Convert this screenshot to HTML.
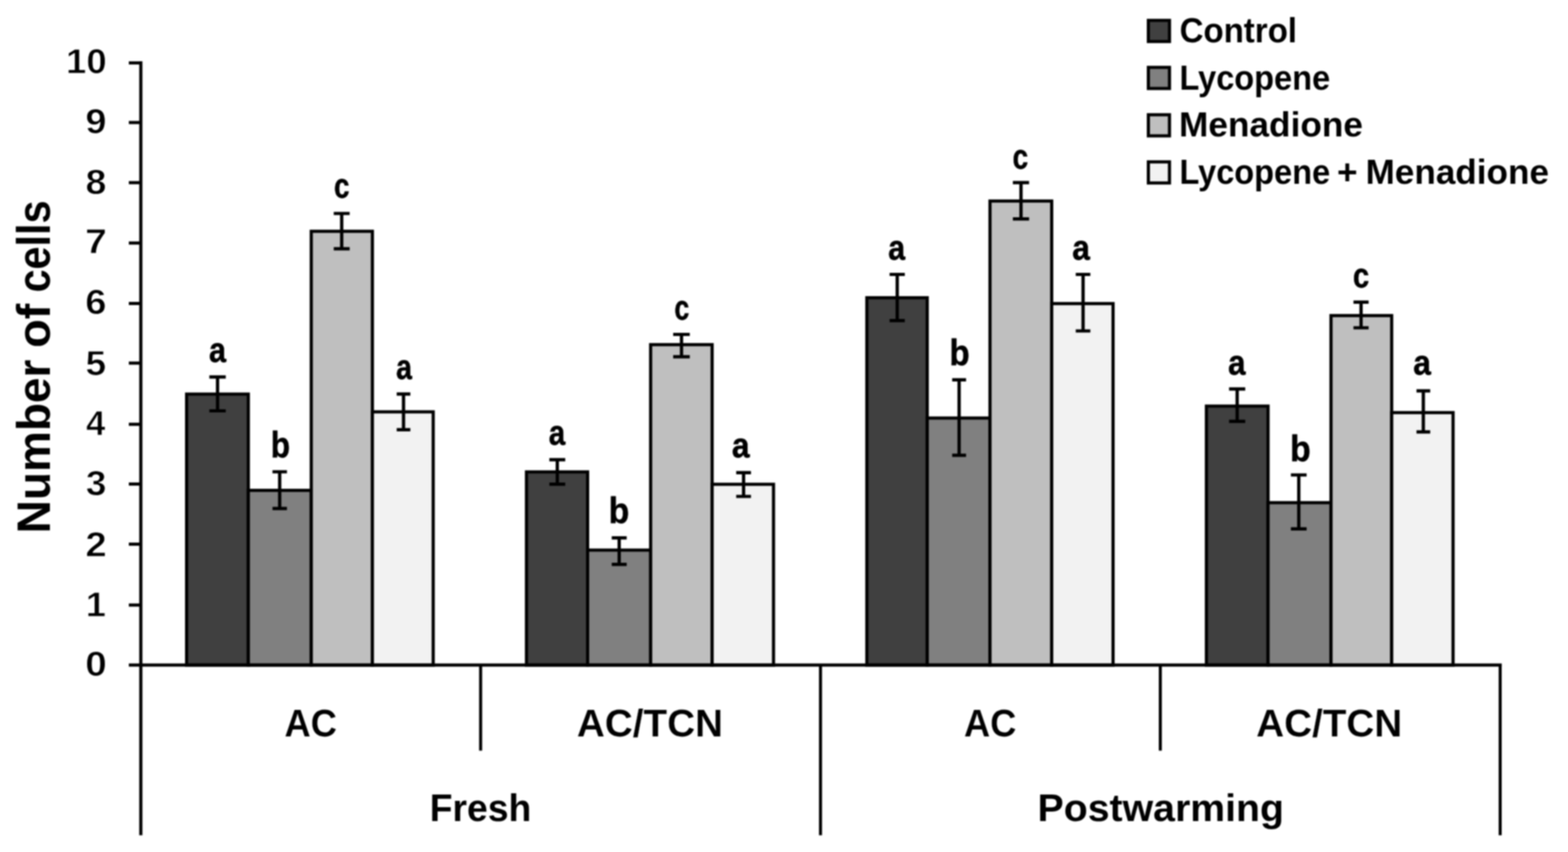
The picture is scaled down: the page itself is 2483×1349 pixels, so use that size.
<!DOCTYPE html>
<html lang="en"><head><meta charset="utf-8"><title>Number of cells</title>
<style>html,body{margin:0;padding:0;background:#fff;}body{width:2483px;height:1349px;overflow:hidden;}svg{display:block;filter:blur(0.9px);}text{font-family:"Liberation Sans",sans-serif;font-weight:bold;fill:#000;}</style>
</head><body>
<svg width="2483" height="1349" viewBox="0 0 2483 1349">
<rect x="0" y="0" width="2483" height="1349" fill="#ffffff"/>
<g stroke="#000" stroke-width="5.0" stroke-linejoin="miter">
<rect x="295.5" y="624.0" width="97.7" height="429.1" fill="#404040"/>
<rect x="393.2" y="776.4" width="99.7" height="276.7" fill="#808080"/>
<rect x="492.9" y="366.2" width="96.8" height="686.9" fill="#bfbfbf"/>
<rect x="589.7" y="652.1" width="96.3" height="401.0" fill="#f2f2f2"/>
<rect x="833.7" y="747.2" width="96.8" height="305.9" fill="#404040"/>
<rect x="930.5" y="871.0" width="99.8" height="182.1" fill="#808080"/>
<rect x="1030.3" y="545.7" width="97.4" height="507.4" fill="#bfbfbf"/>
<rect x="1127.7" y="766.8" width="97.2" height="286.3" fill="#f2f2f2"/>
<rect x="1372.7" y="471.4" width="95.6" height="581.7" fill="#404040"/>
<rect x="1468.3" y="661.9" width="99.4" height="391.2" fill="#808080"/>
<rect x="1567.7" y="318.3" width="97.7" height="734.8" fill="#bfbfbf"/>
<rect x="1665.4" y="480.7" width="97.2" height="572.4" fill="#f2f2f2"/>
<rect x="1910.4" y="643.0" width="97.6" height="410.1" fill="#404040"/>
<rect x="2008.0" y="795.9" width="99.7" height="257.2" fill="#808080"/>
<rect x="2107.7" y="499.7" width="96.1" height="553.4" fill="#bfbfbf"/>
<rect x="2203.8" y="653.3" width="97.2" height="399.8" fill="#f2f2f2"/>
</g>
<g stroke="#000" stroke-width="5.2" fill="none">
<path d="M331.5 596.8H357.5M344.5 596.8V650.5M331.5 650.5H357.5"/>
<path d="M431.5 747.0H454.4M442.9 747.0V805.2M431.5 805.2H454.4"/>
<path d="M528.5 338.0H553.7M541.1 338.0V393.8M528.5 393.8H553.7"/>
<path d="M628.2 623.8H649.8M639.0 623.8V680.4M628.2 680.4H649.8"/>
<path d="M869.9 727.8H895.1M882.5 727.8V766.7M869.9 766.7H895.1"/>
<path d="M968.7 851.6H992.4M980.5 851.6V893.7M968.7 893.7H992.4"/>
<path d="M1066.0 529.5H1092.3M1079.2 529.5V564.8M1066.0 564.8H1092.3"/>
<path d="M1165.8 748.4H1189.2M1177.5 748.4V786.0M1165.8 786.0H1189.2"/>
<path d="M1408.7 434.5H1432.8M1420.8 434.5V507.7M1408.7 507.7H1432.8"/>
<path d="M1507.8 601.4H1529.8M1518.8 601.4V720.8M1507.8 720.8H1529.8"/>
<path d="M1603.9 289.2H1629.6M1616.8 289.2V346.6M1603.9 346.6H1629.6"/>
<path d="M1703.5 434.5H1726.6M1715.1 434.5V524.0M1703.5 524.0H1726.6"/>
<path d="M1946.3 615.8H1971.9M1959.1 615.8V667.2M1946.3 667.2H1971.9"/>
<path d="M2044.2 752.0H2069.1M2056.7 752.0V837.4M2044.2 837.4H2069.1"/>
<path d="M2143.3 478.3H2167.3M2155.3 478.3V519.0M2143.3 519.0H2167.3"/>
<path d="M2243.1 618.8H2264.8M2253.9 618.8V683.9M2243.1 683.9H2264.8"/>
</g>
<g stroke="#000" stroke-width="5.0" fill="none">
<path d="M223.0 97.1V1322.5"/>
<path d="M204 1053.1H2378.1"/>
<path d="M204 958.0H223.0"/>
<path d="M204 861.6H223.0"/>
<path d="M204 766.4H223.0"/>
<path d="M204 671.8H223.0"/>
<path d="M204 574.9H223.0"/>
<path d="M204 480.5H223.0"/>
<path d="M204 384.8H223.0"/>
<path d="M204 289.2H223.0"/>
<path d="M204 194.0H223.0"/>
<path d="M204 99.6H223.0"/>
</g>
<g stroke="#000" stroke-width="4.8" fill="none">
<path d="M761.1 1053.1V1188.5"/>
<path d="M1299.3 1053.1V1322.5"/>
<path d="M1837.4 1053.1V1188.5"/>
<path d="M2375.6 1053.1V1322.5"/>
</g>
<g>
<text x="134.9" y="1070.0" font-size="56.3" textLength="34.1" lengthAdjust="spacingAndGlyphs" stroke="#fff" stroke-width="0.90" stroke-linejoin="round">0</text>
<text x="136.0" y="975.5" font-size="56.3" textLength="31.7" lengthAdjust="spacingAndGlyphs" stroke="#fff" stroke-width="0.90" stroke-linejoin="round">1</text>
<text x="135.2" y="881.0" font-size="56.3" textLength="33.7" lengthAdjust="spacingAndGlyphs" stroke="#fff" stroke-width="0.90" stroke-linejoin="round">2</text>
<text x="136.0" y="784.2" font-size="56.3" textLength="32.5" lengthAdjust="spacingAndGlyphs" stroke="#fff" stroke-width="0.90" stroke-linejoin="round">3</text>
<text x="136.3" y="688.9" font-size="56.3" textLength="30.5" lengthAdjust="spacingAndGlyphs" stroke="#fff" stroke-width="0.90" stroke-linejoin="round">4</text>
<text x="135.6" y="593.7" font-size="56.3" textLength="32.5" lengthAdjust="spacingAndGlyphs" stroke="#fff" stroke-width="0.90" stroke-linejoin="round">5</text>
<text x="135.1" y="497.4" font-size="56.3" textLength="33.5" lengthAdjust="spacingAndGlyphs" stroke="#fff" stroke-width="0.90" stroke-linejoin="round">6</text>
<text x="134.7" y="401.2" font-size="56.3" textLength="34.4" lengthAdjust="spacingAndGlyphs" stroke="#fff" stroke-width="0.90" stroke-linejoin="round">7</text>
<text x="135.4" y="307.4" font-size="56.3" textLength="32.9" lengthAdjust="spacingAndGlyphs" stroke="#fff" stroke-width="0.90" stroke-linejoin="round">8</text>
<text x="135.3" y="210.9" font-size="56.3" textLength="33.4" lengthAdjust="spacingAndGlyphs" stroke="#fff" stroke-width="0.90" stroke-linejoin="round">9</text>
<text x="104.5" y="116.0" font-size="56.3" textLength="64.4" lengthAdjust="spacingAndGlyphs" stroke="#fff" stroke-width="0.90" stroke-linejoin="round">10</text>
</g>
<g>
<text x="330.9" y="572.5" font-size="54.9" textLength="26.9" lengthAdjust="spacingAndGlyphs" stroke="#000" stroke-width="0.80" stroke-linejoin="round">a</text>
<text x="428.8" y="724.3" font-size="56.9" textLength="30.5" lengthAdjust="spacingAndGlyphs" stroke="#000" stroke-width="0.80" stroke-linejoin="round">b</text>
<text x="529.0" y="313.0" font-size="54.9" textLength="24.4" lengthAdjust="spacingAndGlyphs" stroke="#000" stroke-width="0.80" stroke-linejoin="round">c</text>
<text x="627.3" y="600.1" font-size="54.9" textLength="25.1" lengthAdjust="spacingAndGlyphs" stroke="#000" stroke-width="0.80" stroke-linejoin="round">a</text>
<text x="869.0" y="703.7" font-size="54.9" textLength="26.0" lengthAdjust="spacingAndGlyphs" stroke="#000" stroke-width="0.80" stroke-linejoin="round">a</text>
<text x="964.0" y="828.1" font-size="56.9" textLength="32.4" lengthAdjust="spacingAndGlyphs" stroke="#000" stroke-width="0.80" stroke-linejoin="round">b</text>
<text x="1068.0" y="506.3" font-size="54.9" textLength="23.5" lengthAdjust="spacingAndGlyphs" stroke="#000" stroke-width="0.80" stroke-linejoin="round">c</text>
<text x="1158.9" y="724.3" font-size="54.9" textLength="27.9" lengthAdjust="spacingAndGlyphs" stroke="#000" stroke-width="0.80" stroke-linejoin="round">a</text>
<text x="1406.4" y="411.2" font-size="54.9" textLength="26.8" lengthAdjust="spacingAndGlyphs" stroke="#000" stroke-width="0.80" stroke-linejoin="round">a</text>
<text x="1503.6" y="578.3" font-size="56.9" textLength="31.9" lengthAdjust="spacingAndGlyphs" stroke="#000" stroke-width="0.80" stroke-linejoin="round">b</text>
<text x="1603.4" y="266.5" font-size="54.9" textLength="24.6" lengthAdjust="spacingAndGlyphs" stroke="#000" stroke-width="0.80" stroke-linejoin="round">c</text>
<text x="1698.1" y="411.2" font-size="54.9" textLength="27.8" lengthAdjust="spacingAndGlyphs" stroke="#000" stroke-width="0.80" stroke-linejoin="round">a</text>
<text x="1944.8" y="593.0" font-size="54.9" textLength="27.6" lengthAdjust="spacingAndGlyphs" stroke="#000" stroke-width="0.80" stroke-linejoin="round">a</text>
<text x="2043.0" y="729.9" font-size="56.9" textLength="32.5" lengthAdjust="spacingAndGlyphs" stroke="#000" stroke-width="0.80" stroke-linejoin="round">b</text>
<text x="2142.6" y="454.7" font-size="54.9" textLength="25.6" lengthAdjust="spacingAndGlyphs" stroke="#000" stroke-width="0.80" stroke-linejoin="round">c</text>
<text x="2238.1" y="593.0" font-size="54.9" textLength="27.8" lengthAdjust="spacingAndGlyphs" stroke="#000" stroke-width="0.80" stroke-linejoin="round">a</text>
</g>
<g>
<text x="450.4" y="1165.8" font-size="61.3" textLength="83.0" lengthAdjust="spacingAndGlyphs" stroke="#fff" stroke-width="0.20" stroke-linejoin="round">AC</text>
<text x="913.6" y="1165.8" font-size="61.3" textLength="231.3" lengthAdjust="spacingAndGlyphs" stroke="#fff" stroke-width="0.20" stroke-linejoin="round">AC/TCN</text>
<text x="1526.6" y="1165.8" font-size="61.3" textLength="82.9" lengthAdjust="spacingAndGlyphs" stroke="#fff" stroke-width="0.20" stroke-linejoin="round">AC</text>
<text x="1989.3" y="1165.8" font-size="61.3" textLength="231.1" lengthAdjust="spacingAndGlyphs" stroke="#fff" stroke-width="0.20" stroke-linejoin="round">AC/TCN</text>
<text x="680.5" y="1300.2" font-size="62.0" textLength="160.8" lengthAdjust="spacingAndGlyphs">Fresh</text>
<text x="1643.1" y="1300.2" font-size="62.0" textLength="390.2" lengthAdjust="spacingAndGlyphs">Postwarming</text>
</g>
<text font-size="74.0" transform="translate(79.2 839.9) rotate(-90)" y="0.0"><tspan x="-4.5" textLength="275.1" lengthAdjust="spacingAndGlyphs">Number</tspan> <tspan x="289.2" textLength="70.0" lengthAdjust="spacingAndGlyphs">of</tspan> <tspan x="376.8" textLength="145.8" lengthAdjust="spacingAndGlyphs">cells</tspan></text>
<rect x="1818.5" y="32.3" width="33.4" height="33.4" fill="#404040" stroke="#000" stroke-width="5"/>
<rect x="1818.5" y="106.7" width="33.4" height="33.4" fill="#808080" stroke="#000" stroke-width="5"/>
<rect x="1818.5" y="181.7" width="33.4" height="33.4" fill="#bfbfbf" stroke="#000" stroke-width="5"/>
<rect x="1818.5" y="256.3" width="33.4" height="33.4" fill="#f2f2f2" stroke="#000" stroke-width="5"/>
<text x="1867.9" y="66.9" font-size="56.0" textLength="186.0" lengthAdjust="spacingAndGlyphs">Control</text>
<text x="1867.7" y="142.2" font-size="56.0" textLength="238.6" lengthAdjust="spacingAndGlyphs">Lycopene</text>
<text x="1867.0" y="216.3" font-size="56.0" textLength="291.3" lengthAdjust="spacingAndGlyphs">Menadione</text>
<text y="290.9" font-size="56.0"><tspan x="1867.7" textLength="238.6" lengthAdjust="spacingAndGlyphs">Lycopene</tspan> <tspan x="2117.2" textLength="32.5" lengthAdjust="spacingAndGlyphs">+</tspan> <tspan x="2162.5" textLength="290.3" lengthAdjust="spacingAndGlyphs">Menadione</tspan></text>
</svg>
</body></html>
